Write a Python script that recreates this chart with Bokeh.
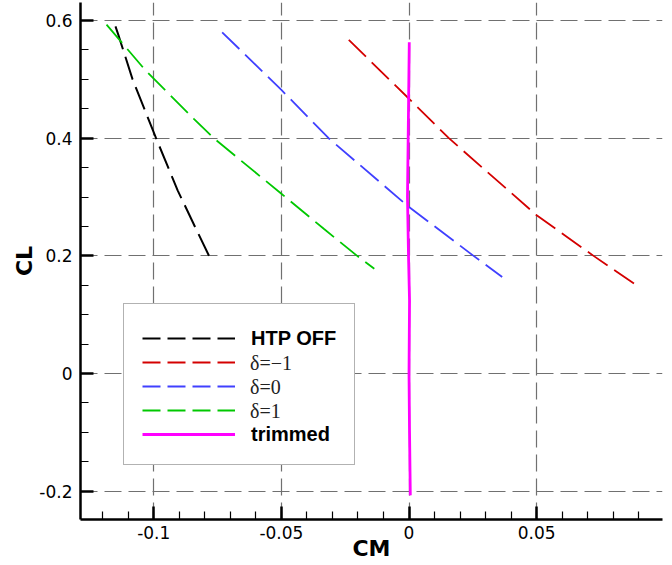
from bokeh.plotting import figure
from bokeh.models import Range1d, FixedTicker, Legend, LegendItem
from bokeh.embed import file_html
from bokeh.resources import INLINE

# ---- data ----
cm_htp_off = [-0.1150, -0.1139, -0.1083, -0.0991, -0.0906, -0.0839, -0.0778]
cl_htp_off = [0.590, 0.576, 0.500, 0.400, 0.311, 0.250, 0.195]

cm_dm1 = [-0.0236, 0, 0.0156, 0.0500, 0.0723, 0.0891]
cl_dm1 = [0.567, 0.467, 0.400, 0.269, 0.200, 0.150]

cm_d0 = [-0.0732, -0.0500, -0.0315, 0, 0.0253, 0.0365]
cl_d0 = [0.580, 0.482, 0.400, 0.283, 0.200, 0.164]

cm_d1 = [-0.1185, -0.1032, -0.0843, -0.0765, -0.0500, -0.0334, -0.0203, -0.0136]
cl_d1 = [0.593, 0.515, 0.433, 0.400, 0.3055, 0.246, 0.200, 0.178]

cm_trim = [0.0005, 0.0002, 0.0, 0.0002, -0.0002, -0.0006, -0.0002, 0.0001]
cl_trim = [-0.207, -0.100, 0.000, 0.124, 0.200, 0.300, 0.450, 0.563]

series_labels = ["HTP OFF", "\u03b4=\u22121", "\u03b4=0", "\u03b4=1", "trimmed"]

x_ticks = [-0.1, -0.05, 0, 0.05]
x_tick_labels = ["-0.1", "-0.05", "0", "0.05"]
y_ticks = [-0.2, 0, 0.2, 0.4, 0.6]
y_tick_labels = ["-0.2", "0", "0.2", "0.4", "0.6"]
x_minor = [round(-0.12 + 0.01 * i, 2) for i in range(22)]
y_minor = [round(-0.25 + 0.05 * i, 2) for i in range(18)]

colors = ["black", "#d40000", "#4040ff", "#00c800", "#ff00ff"]

p = figure(width=672, height=565, output_backend="svg", toolbar_location=None,
           x_range=Range1d(-0.1287, 0.0993), y_range=Range1d(-0.248, 0.6306),
           min_border_left=80, min_border_right=10, min_border_top=2,
           min_border_bottom=46)
p.outline_line_color = None

for ax, ticks, minor, labels in ((p.xaxis[0], x_ticks, x_minor, x_tick_labels),
                                 (p.yaxis[0], y_ticks, y_minor, y_tick_labels)):
    ax.ticker = FixedTicker(ticks=ticks, minor_ticks=minor)
    ax.major_label_overrides = {t: s for t, s in zip(ticks, labels)}
    ax.axis_line_width = 2.5
    ax.axis_line_color = "black"
    ax.major_tick_in = 13
    ax.major_tick_out = 0
    ax.minor_tick_in = 8
    ax.minor_tick_out = 0
    ax.major_tick_line_width = 2.5
    ax.minor_tick_line_width = 1.2
    ax.major_label_text_font = "DejaVu Sans"
    ax.major_label_text_font_size = "17px"
    ax.major_label_text_color = "black"
    ax.axis_label_text_font = "DejaVu Sans"
    ax.axis_label_text_font_size = "22px"
    ax.axis_label_text_font_style = "bold"
    ax.axis_label_text_color = "black"

p.xaxis.axis_label = "CM"
p.yaxis.axis_label = "CL"
p.xaxis.major_label_standoff = 6
p.yaxis.major_label_standoff = 8
p.xaxis.axis_label_standoff = -6
p.yaxis.axis_label_standoff = -1

for g in (p.xgrid[0], p.ygrid[0]):
    g.grid_line_color = "#707070"
    g.grid_line_width = 1.2
    g.grid_line_dash = "17 7"

# curves
series = [(cm_htp_off, cl_htp_off), (cm_dm1, cl_dm1), (cm_d0, cl_d0),
          (cm_d1, cl_d1), (cm_trim, cl_trim)]
widths = [2, 1.8, 1.8, 1.8, 2.8]
leg_r = []
for i, ((xs, ys), c, w) in enumerate(zip(series, colors, widths)):
    if i < 4:
        p.line(xs, ys, line_color=c, line_width=w, line_dash="24 8")
        # hidden twin used only for the legend sample (shorter dashes)
        leg_r.append(p.line(xs, ys, line_color=c, line_width=2, line_dash="18 7",
                            visible=False))
    else:
        r = p.line(xs, ys, line_color=c, line_width=w)
        leg_r.append(r)
inv = p.line(cm_trim, cl_trim, line_alpha=0)

common = dict(location=(43, 54), padding=18, glyph_width=93, glyph_height=24,
              label_height=24, label_standoff=16, spacing=0, margin=0,
              title=" ", title_text_font_size="1px", title_standoff=3,
              label_text_font_size="20px", inactive_fill_alpha=0)

bold_labels = [series_labels[0], " ", " ", " ", series_labels[4]]
legA = Legend(items=[LegendItem(label=l, renderers=[r]) for l, r in zip(bold_labels, leg_r)],
              label_text_font="Liberation Sans", label_text_font_style="bold",
              label_text_color="black",
              border_line_color="#666666", border_line_width=1.2,
              background_fill_color="white", background_fill_alpha=1, **common)
norm_labels = [" ", series_labels[1], series_labels[2], series_labels[3], " "]
legB = Legend(items=[LegendItem(label=l, renderers=[inv]) for l in norm_labels],
              label_text_font="Liberation Serif", label_text_color="#222222",
              border_line_alpha=0, background_fill_alpha=0, **common)
p.add_layout(legA, "center")
p.add_layout(legB, "center")

open("out.html", "w").write(file_html(p, INLINE))
